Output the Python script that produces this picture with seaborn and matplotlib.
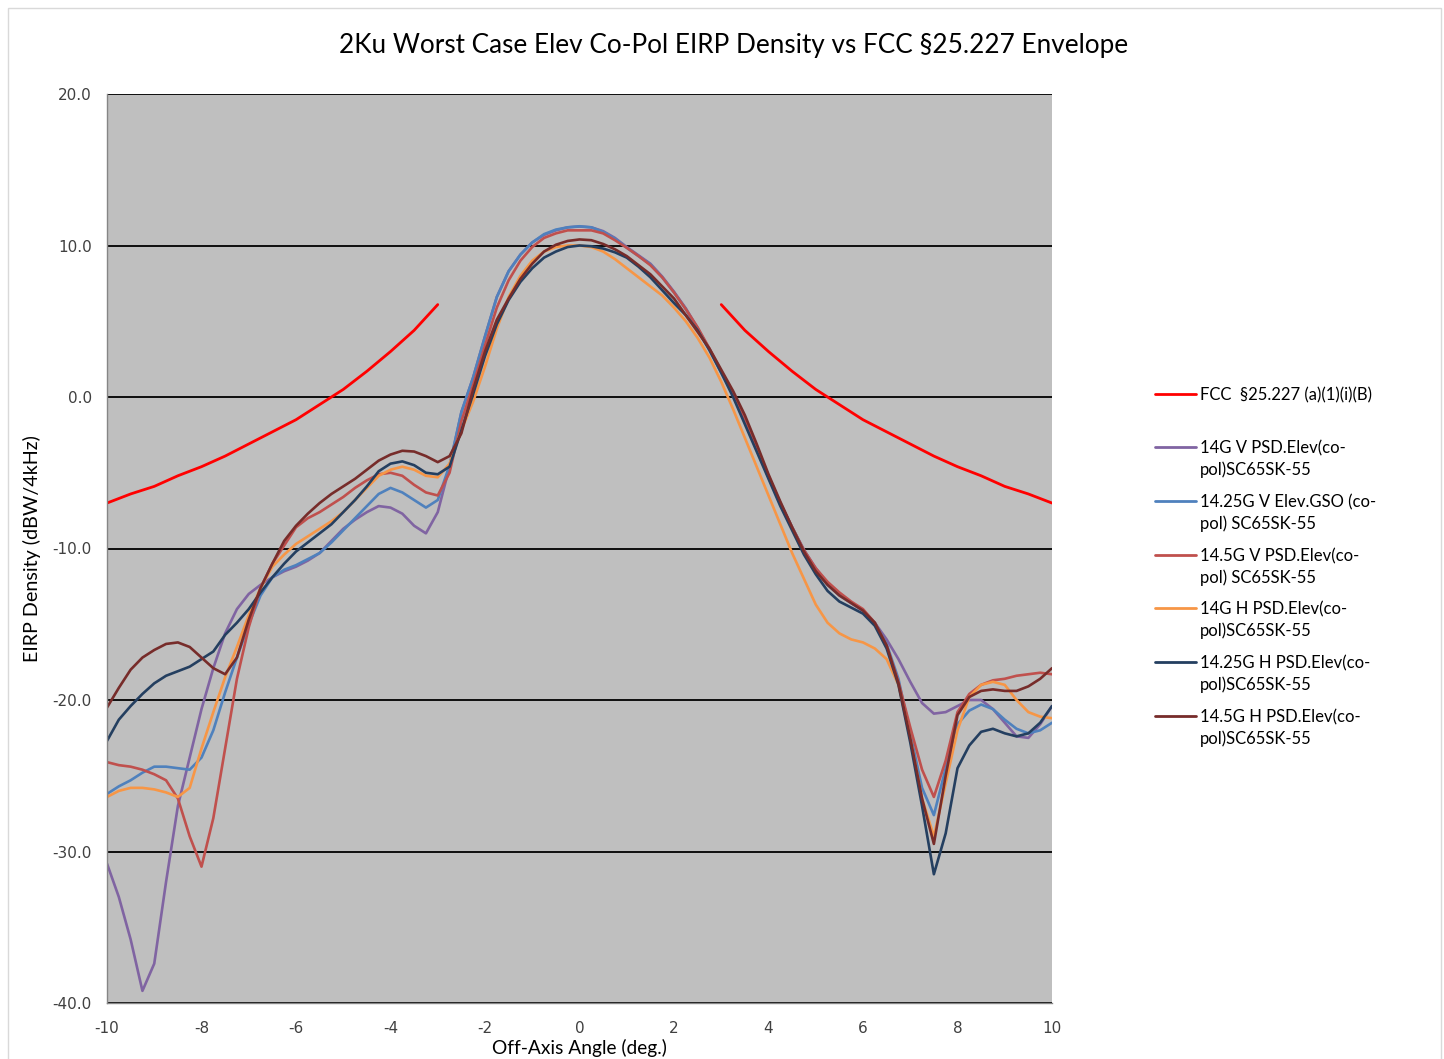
import numpy as np
import pandas as pd
import matplotlib
matplotlib.use("Agg")
import matplotlib.pyplot as plt
import seaborn as sns
from matplotlib.lines import Line2D
from matplotlib.patches import Rectangle

# ---------------------------------------------------------------- data
TITLE = "2Ku Worst Case Elev Co-Pol EIRP Density vs FCC §25.227 Envelope"
X_LABEL = "Off-Axis Angle (deg.)"
Y_LABEL = "EIRP Density (dBW/4kHz)"

# measurement grid (deg), 0.25 deg step
ANGLE = np.arange(-10.0, 10.01, 0.25)

V14 = [-30.8, -33.0, -35.8, -39.2, -37.4, -32.0, -27.0, -23.8, -20.6, -17.9,
       -15.6, -14.0, -13.0, -12.4, -11.9, -11.5, -11.2, -10.8, -10.3, -9.5,
       -8.7, -8.1, -7.6, -7.2, -7.3, -7.7, -8.5, -9.0, -7.6, -4.6,
       -1.0, 1.3, 4.0, 6.6, 8.3, 9.4, 10.2, 10.7, 11.0, 11.2,
       11.25, 11.2, 10.95, 10.5, 9.9, 9.35, 8.8, 7.95, 6.95, 5.85,
       4.55, 3.15, 1.65, 0.25, -1.5, -3.4, -5.3, -7.0, -8.6, -10.1,
       -11.3, -12.3, -13.0, -13.6, -14.1, -14.9, -16.0, -17.3, -18.8, -20.2,
       -20.9, -20.8, -20.4, -20.0, -20.0, -20.6, -21.5, -22.4, -22.5, -21.6,
       -20.4]

V1425 = [-26.2, -25.7, -25.3, -24.8, -24.4, -24.4, -24.5, -24.6, -23.8, -22.0,
         -19.5, -17.2, -15.0, -13.1, -11.9, -11.4, -11.1, -10.7, -10.3, -9.6,
         -8.8, -8.0, -7.2, -6.4, -6.0, -6.3, -6.8, -7.3, -6.8, -4.5,
         -1.0, 1.3, 4.0, 6.6, 8.3, 9.4, 10.2, 10.75, 11.05, 11.2,
         11.27, 11.2, 10.9, 10.45, 9.85, 9.3, 8.75, 7.9, 6.9, 5.8,
         4.5, 3.1, 1.6, 0.2, -1.5, -3.4, -5.3, -7.0, -8.6, -10.1,
         -11.4, -12.4, -13.1, -13.6, -14.1, -14.9, -16.3, -18.6, -22.2, -25.8,
         -27.6, -24.5, -21.6, -20.7, -20.3, -20.6, -21.3, -21.9, -22.2, -22.0,
         -21.5]

V145 = [-24.1, -24.3, -24.4, -24.6, -24.9, -25.3, -26.5, -29.0, -31.0, -27.8,
        -23.2, -18.6, -15.2, -12.6, -11.0, -9.8, -8.6, -8.0, -7.6, -7.1,
        -6.6, -6.0, -5.5, -5.1, -5.0, -5.2, -5.8, -6.3, -6.5, -5.0,
        -1.6, 0.8, 3.4, 5.9, 7.7, 9.0, 9.9, 10.5, 10.8, 11.0,
        11.0, 11.0, 10.8, 10.35, 9.85, 9.3, 8.7, 7.9, 6.9, 5.8,
        4.6, 3.2, 1.7, 0.3, -1.4, -3.3, -5.2, -7.0, -8.6, -10.1,
        -11.3, -12.2, -12.9, -13.5, -14.0, -14.9, -16.4, -18.8, -21.8, -24.6,
        -26.4, -24.0, -20.8, -19.6, -19.0, -18.7, -18.6, -18.4, -18.3, -18.2,
        -18.3]

H14 = [-26.4, -26.0, -25.8, -25.8, -25.9, -26.1, -26.4, -25.8, -23.2, -20.8,
       -18.5, -16.5, -14.4, -12.6, -11.2, -10.4, -9.7, -9.2, -8.7, -8.2,
       -7.6, -6.8, -6.0, -5.2, -4.8, -4.6, -4.8, -5.2, -5.3, -4.4,
       -2.2, -0.3, 2.0, 4.5, 6.6, 8.0, 9.0, 9.6, 9.9, 10.0,
       10.0, 9.9, 9.6, 9.1, 8.5, 7.9, 7.3, 6.7, 5.9, 5.0,
       3.9, 2.6, 1.0, -0.8, -2.7, -4.6, -6.5, -8.4, -10.3, -12.0,
       -13.7, -14.9, -15.6, -16.0, -16.2, -16.6, -17.3, -19.0, -22.5, -26.5,
       -29.0, -25.5, -22.0, -19.8, -19.0, -18.8, -19.0, -20.0, -20.8, -21.1,
       -21.2]

H1425 = [-22.7, -21.3, -20.4, -19.6, -18.9, -18.4, -18.1, -17.8, -17.3, -16.8,
         -15.7, -14.9, -14.0, -12.9, -11.9, -11.0, -10.2, -9.6, -9.0, -8.4,
         -7.6, -6.8, -5.9, -4.9, -4.4, -4.25, -4.5, -5.0, -5.1, -4.6,
         -2.2, 0.2, 2.7, 4.8, 6.4, 7.6, 8.5, 9.2, 9.6, 9.9,
         10.0, 9.95, 9.8, 9.55, 9.2, 8.6, 7.9, 7.05, 6.2, 5.4,
         4.4, 3.1, 1.6, 0.0, -1.8, -3.6, -5.4, -7.2, -8.8, -10.4,
         -11.7, -12.8, -13.5, -13.9, -14.3, -15.1, -16.6, -19.0, -22.8, -27.0,
         -31.5, -28.8, -24.5, -23.0, -22.1, -21.9, -22.2, -22.4, -22.2, -21.5,
         -20.4]

H145 = [-20.5, -19.2, -18.0, -17.2, -16.7, -16.3, -16.2, -16.5, -17.2, -17.9,
        -18.3, -17.2, -14.7, -12.6, -11.0, -9.5, -8.5, -7.7, -7.0, -6.4,
        -5.9, -5.4, -4.8, -4.2, -3.8, -3.55, -3.6, -3.9, -4.3, -3.9,
        -2.4, 0.5, 3.0, 5.1, 6.5, 7.8, 8.8, 9.6, 10.05, 10.3,
        10.4, 10.35, 10.1, 9.75, 9.3, 8.7, 8.1, 7.3, 6.5, 5.4,
        4.3, 3.2, 1.8, 0.4, -1.2, -3.1, -5.1, -6.9, -8.6, -10.2,
        -11.5, -12.4, -13.1, -13.6, -14.1, -14.9, -16.4, -18.9, -22.5, -26.5,
        -29.5, -25.0, -21.0, -19.8, -19.4, -19.3, -19.4, -19.4, -19.1, -18.6,
        -17.9]

# FCC off-axis envelope, symmetric about boresight (|angle| in deg)
FCC_ANGLE = [3.0, 3.5, 4.0, 4.5, 5.0, 5.5, 6.0, 6.5, 7.0, 7.5, 8.0, 8.5, 9.0, 9.5, 10.0]
FCC_LEVEL = [6.1, 4.4, 3.0, 1.7, 0.5, -0.5, -1.5, -2.3, -3.1, -3.9, -4.6, -5.2, -5.9, -6.4, -7.0]

FCC_NAME = "FCC  §25.227 (a)(1)(i)(B)"
SERIES = ["14G V PSD.Elev(co-\npol)SC65SK-55",
          "14.25G V Elev.GSO (co-\npol) SC65SK-55",
          "14.5G V PSD.Elev(co-\npol) SC65SK-55",
          "14G H PSD.Elev(co-\npol)SC65SK-55",
          "14.25G H PSD.Elev(co-\npol)SC65SK-55",
          "14.5G H PSD.Elev(co-\npol)SC65SK-55"]
VALUES = [V14, V1425, V145, H14, H1425, H145]
COLORS = ["#8064A2", "#4F81BD", "#C0504D", "#F79646", "#243F60", "#772C2A"]
FCC_COLOR = "#FF0000"

Y_TICKS = [-40, -30, -20, -10, 0, 10, 20]
X_TICKS = [-10, -8, -6, -4, -2, 0, 2, 4, 6, 8, 10]

# ---------------------------------------------------------------- frames
wide = pd.DataFrame({"angle": ANGLE})
for name, vals in zip(SERIES, VALUES):
    wide[name] = vals
long = wide.melt(id_vars="angle", var_name="series", value_name="level")

fcc = pd.DataFrame({
    "angle": [-a for a in FCC_ANGLE[::-1]] + FCC_ANGLE,
    "level": FCC_LEVEL[::-1] + FCC_LEVEL,
    "side": ["neg"] * len(FCC_ANGLE) + ["pos"] * len(FCC_ANGLE),
})

# ---------------------------------------------------------------- figure
sns.set_theme(style="white")
plt.rcParams["font.family"] = ["Lato", "DejaVu Sans"]

W, H = 1444, 1059
fig = plt.figure(figsize=(W / 100, H / 100), dpi=100)
fig.patch.set_facecolor("white")


def fx(px):
    return px / W


def fy(py):
    return 1 - py / H


ax = fig.add_axes([fx(107), fy(1003), fx(1052 - 107), (1003 - 94) / H])
ax.set_facecolor("#BFBFBF")

sns.lineplot(data=fcc, x="angle", y="level", units="side", estimator=None,
             color=FCC_COLOR, linewidth=2.0, legend=False, ax=ax, sort=True)
sns.lineplot(data=long, x="angle", y="level", hue="series", hue_order=SERIES,
             palette=COLORS, estimator=None, linewidth=1.9, legend=False, ax=ax)

ax.set_xlim(-10, 10)
ax.set_ylim(-40, 20)
ax.set_yticks(Y_TICKS)
ax.set_yticklabels([f"{v:.1f}" for v in Y_TICKS])
ax.set_xticks(X_TICKS)
ax.set_xticklabels([str(v) for v in X_TICKS])
ax.set_xlabel("")
ax.set_ylabel("")

ax.yaxis.grid(True, color="black", linewidth=1.3)
ax.xaxis.grid(False)
ax.set_axisbelow(True)
for side in ("top", "right"):
    ax.spines[side].set_visible(False)
for side in ("left", "bottom"):
    ax.spines[side].set_color("#868686")
    ax.spines[side].set_linewidth(1.0)
ax.tick_params(axis="both", direction="out", length=5, width=1,
               color="#868686", labelcolor="#404040", labelsize=11, pad=6)
ax.tick_params(axis="x", pad=8)
for lab in ax.get_xticklabels() + ax.get_yticklabels():
    lab.set_family("DejaVu Sans")

# titles and axis labels
fig.text(fx(734), fy(45), TITLE, ha="center", va="center", fontsize=18.8,
         color="#000000")
fig.text(fx(579), fy(1048), X_LABEL, ha="center", va="center", fontsize=13.8,
         color="#000000")
fig.text(fx(32), fy(549), Y_LABEL, ha="center", va="center", fontsize=14.2,
         rotation=90, color="#000000")

# legend at the right of the plot area
entries = [(FCC_NAME, FCC_COLOR)] + list(zip(SERIES, COLORS))
rows = [394, 447, 501, 555, 608, 662, 716]
for (label, color), py in zip(entries, rows):
    fig.add_artist(Line2D([fx(1155), fx(1196)], [fy(py), fy(py)],
                          color=color, linewidth=2.0,
                          transform=fig.transFigure))
    fig.text(fx(1200), fy(py - 7), label, ha="left", va="top",
             fontsize=12, linespacing=1.4, color="#000000")

# outer chart border
fig.add_artist(Rectangle((fx(8), -0.01), fx(1441 - 8), fy(8) + 0.01,
                         transform=fig.transFigure, fill=False,
                         edgecolor="#D9D9D9", linewidth=1.0))

fig.savefig("out.png", dpi=100, facecolor="white")
